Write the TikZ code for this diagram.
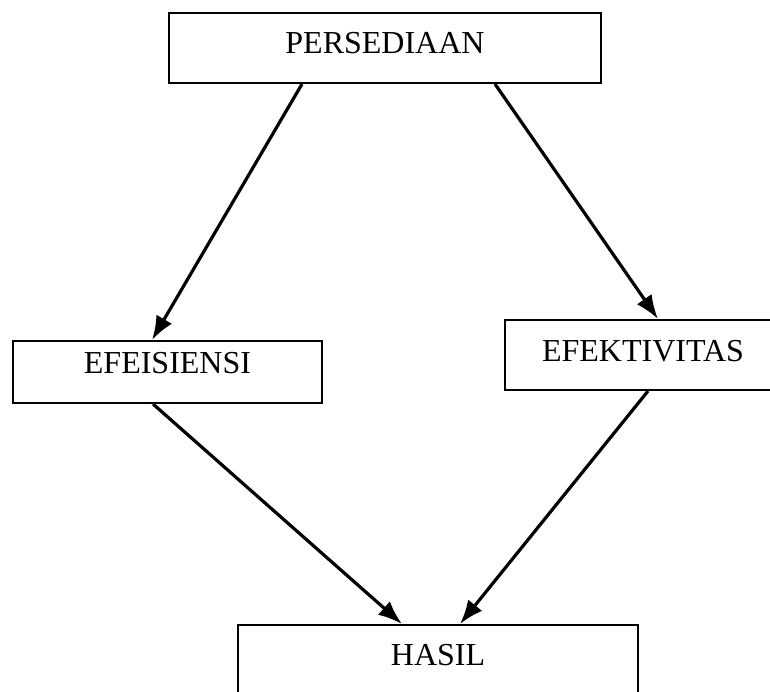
\documentclass[tikz,border=0pt]{standalone}
\usepackage{fontspec}
\setmainfont{Liberation Serif}
\usetikzlibrary{positioning, arrows.meta}
\tikzset{
every edge/.style={draw, ->, line width=1.6pt}, % makes the edges directed
>={Latex[length=12pt,width=9pt]}, % filled arrow heads
box/.style={draw, line width=1pt, inner sep=0pt, text height=10.6pt, font=\fontsize{16}{19}\selectfont}, % sets the properties for each box
}

\begin{document}
\begin{tikzpicture}[x=0.5pt, y=-0.5pt]
        \clip (0,0) rectangle (770,691);
        \node[box, minimum width=216pt, minimum height=35pt, text depth=5.5pt] (PERSEDIAAN) at (385,48) {PERSEDIAAN};
        \node[box, minimum width=154.5pt, minimum height=31pt, text depth=9pt] (EFISIENSI) at (167.5,372) {EFEISIENSI};
        \node[box, minimum width=138pt, minimum height=35pt, text depth=4pt] (EFEKTIVITAS) at (643,355) {EFEKTIVITAS};
        \node[box, minimum width=200pt, minimum height=35pt, text depth=5pt] (HASIL) at (438,660) {HASIL};


       \path ([xshift=-41.5pt]PERSEDIAAN.south) edge ([xshift=-7.75pt]EFISIENSI.north)
             ([xshift=55pt]PERSEDIAAN.south) edge ([xshift=7.5pt]EFEKTIVITAS.north)
             ([xshift=-7.25pt]EFISIENSI.south) edge ([xshift=-18pt]HASIL.north)
             ([xshift=2.5pt]EFEKTIVITAS.south) edge ([xshift=11pt]HASIL.north);



  \end{tikzpicture}
\end{document}
